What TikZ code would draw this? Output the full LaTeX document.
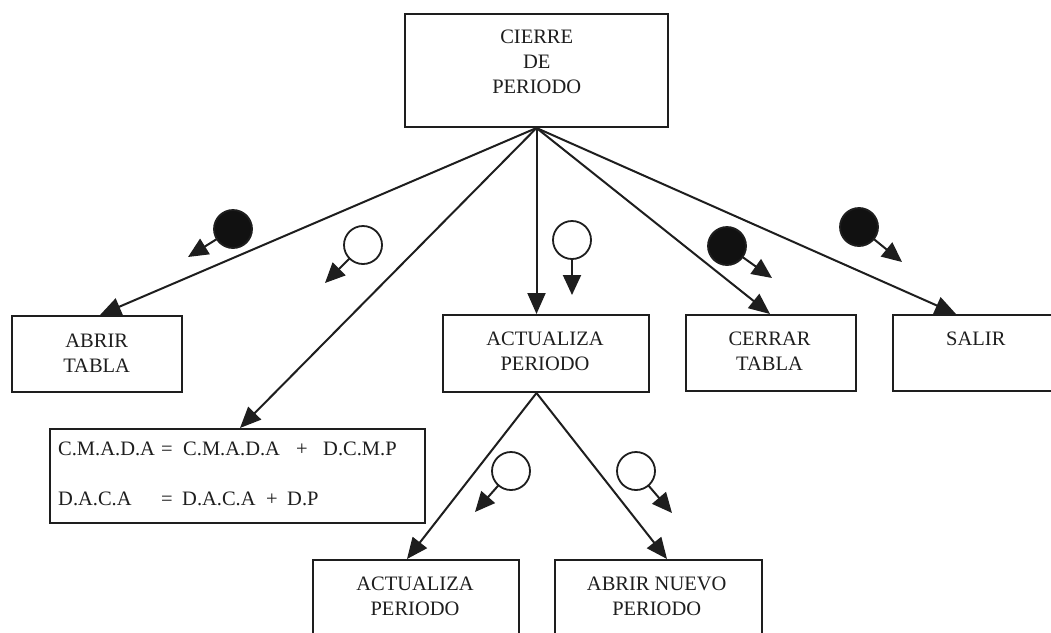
\documentclass[tikz,border=0pt]{standalone}
\usepackage{fontspec}
\setmainfont{Liberation Serif}
\usetikzlibrary{arrows.meta}
\definecolor{ink}{HTML}{1E1E1E}
\definecolor{dot}{HTML}{111111}
\begin{document}
\begin{tikzpicture}[x=1pt,y=-1pt,
  box/.style={draw=ink,line width=2pt,rectangle,inner sep=0pt},
  lbl/.style={inner sep=0pt,align=center,anchor=north,text=ink,font=\fontsize{20.5}{25}\selectfont},
  eqt/.style={inner sep=0pt,anchor=base west,text=ink,font=\fontsize{20.5}{25}\selectfont},
  conn/.style={draw=ink,line width=2pt,-{Triangle[length=21pt,width=18pt]}},
  bdot/.style={circle,draw=ink,fill=dot,line width=1.8pt,minimum size=38pt,inner sep=0pt},
  wdot/.style={circle,draw=ink,fill=white,line width=1.8pt,minimum size=38pt,inner sep=0pt},
  sarr/.style={draw=ink,line width=2pt,shorten <=-0.5pt,-{Triangle[length=20pt,width=18pt]}}]
\useasboundingbox (0,0) rectangle (1051,632);
\clip (0,0) rectangle (1051,632);
\fill[white] (0,0) rectangle (1051,632);

% boxes
\node[box,minimum width=263pt,minimum height=113pt] (top) at (536.5,70.5) {};
\node[box,minimum width=170pt,minimum height=76pt] (abrir) at (97,354) {};
\node[box,minimum width=375pt,minimum height=94pt] (eq) at (237.5,476) {};
\node[box,minimum width=206pt,minimum height=77pt] (act) at (546,353.5) {};
\node[box,minimum width=170pt,minimum height=76pt] (cerrar) at (771,353) {};
\node[box,minimum width=177pt,minimum height=76pt] (salir) at (981.5,353) {};
\node[box,minimum width=206pt,minimum height=100pt] (act2) at (416,610) {};
\node[box,minimum width=207pt,minimum height=100pt] (nuevo) at (658.5,610) {};

% texts
\node[lbl] (ttop) at (536.7,29.4) {CIERRE\\DE\\PERIODO};
\node[lbl] (tabrir) at (96.7,333.4) {ABRIR\\TABLA};
\node[lbl] (tact) at (545,331.4) {ACTUALIZA\\PERIODO};
\node[lbl] (tcerrar) at (769.5,331.4) {CERRAR\\TABLA};
\node[lbl] (tsalir) at (975.8,331.4) {SALIR};
\node[lbl] (tact2) at (415,576.4) {ACTUALIZA\\PERIODO};
\node[lbl] (tnuevo) at (656.7,576.4) {ABRIR NUEVO\\PERIODO};

\node[eqt] (e1a) at (58,455) {C.M.A.D.A};
\node[eqt] (e1b) at (161,455) {=};
\node[eqt] (e1c) at (183,455) {C.M.A.D.A};
\node[eqt] (e1d) at (296,455) {+};
\node[eqt] (e1e) at (323,455) {D.C.M.P};
\node[eqt] (e2a) at (58,505) {D.A.C.A};
\node[eqt] (e2b) at (161,505) {=};
\node[eqt] (e2c) at (182,505) {D.A.C.A};
\node[eqt] (e2d) at (266,505) {+};
\node[eqt] (e2e) at (287,505) {D.P};

% connectors
\coordinate (ap2) at (top.south |- act.south);
\draw[conn] (top.south) -- ([xshift=3pt]abrir.north);
\draw[conn] (top.south) -- ([xshift=2.5pt]eq.north);
\draw[conn] (top.south) -- (top.south |- act.north);
\draw[conn] (top.south) -- ([xshift=-1pt]cerrar.north);
\draw[conn] (top.south) -- ([xshift=64pt]salir.north west);
\draw[conn] (ap2) -- ([xshift=-9pt]act2.north);
\draw[conn] (ap2) -- ([xshift=8.5pt]nuevo.north);

% circles with small arrows
\node[bdot] (b1) at (233,229) {};
\coordinate (t1) at (188,257);
\node[wdot] (w2) at (363,245) {};
\coordinate (t2) at (325,283);
\node[wdot] (w3) at (572,240) {};
\coordinate (t3) at (572,295);
\node[bdot] (b4) at (727,246) {};
\coordinate (t4) at (772,278);
\node[bdot] (b5) at (859,227) {};
\coordinate (t5) at (902,262);
\node[wdot] (w6) at (511,471) {};
\coordinate (t6) at (475,512);
\node[wdot] (w7) at (636,471) {};
\coordinate (t7) at (672,513);
\draw[sarr] (b1) -- (t1);
\draw[sarr] (w2) -- (t2);
\draw[sarr] (w3) -- (t3);
\draw[sarr] (b4) -- (t4);
\draw[sarr] (b5) -- (t5);
\draw[sarr] (w6) -- (t6);
\draw[sarr] (w7) -- (t7);
\end{tikzpicture}
\end{document}
